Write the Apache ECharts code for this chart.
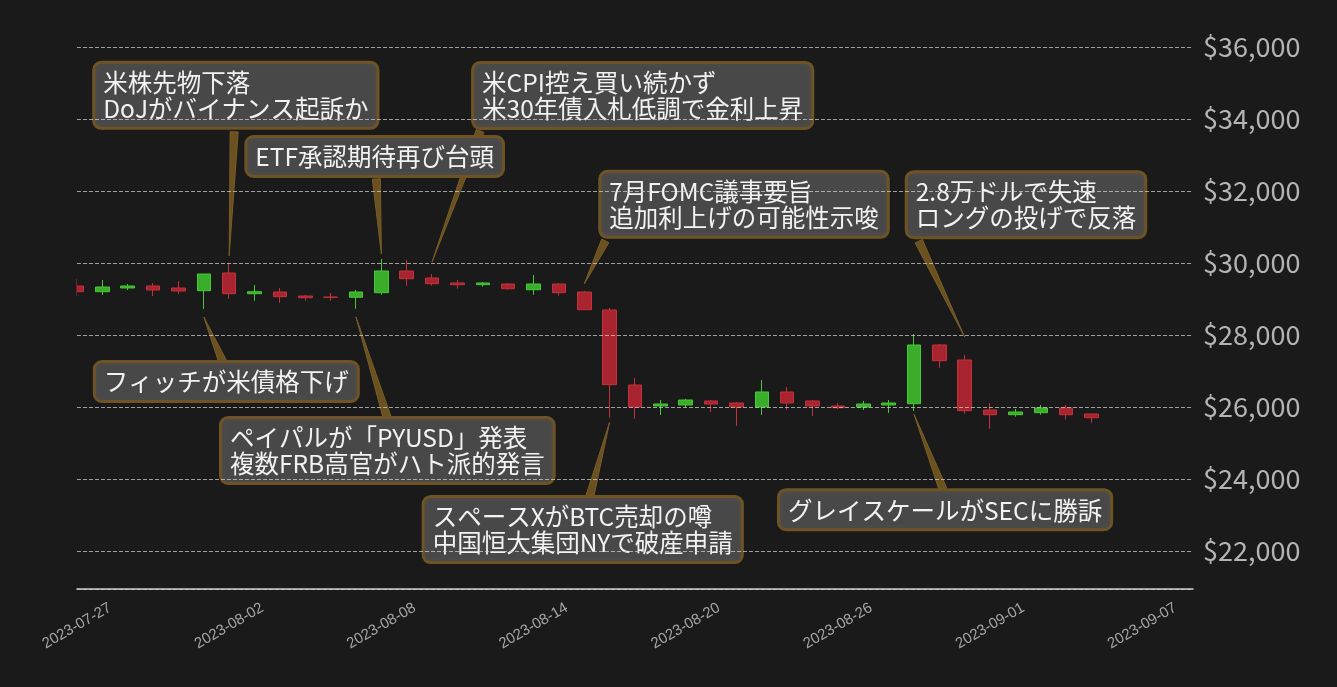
<!DOCTYPE html>
<html>
<head>
<meta charset="utf-8">
<script src="https://cdn.jsdelivr.net/npm/echarts@6/dist/echarts.min.js"></script>
<style>
html,body{margin:0;padding:0;background:#1a1a1a;}
#chart{width:1337px;height:687px;}
</style>
</head>
<body>
<div id="chart"></div>
<script>
// ---- data ----
const dates = [
  '2023-07-27','2023-07-28','2023-07-29','2023-07-30','2023-07-31',
  '2023-08-01','2023-08-02','2023-08-03','2023-08-04','2023-08-05',
  '2023-08-06','2023-08-07','2023-08-08','2023-08-09','2023-08-10',
  '2023-08-11','2023-08-12','2023-08-13','2023-08-14','2023-08-15',
  '2023-08-16','2023-08-17','2023-08-18','2023-08-19','2023-08-20',
  '2023-08-21','2023-08-22','2023-08-23','2023-08-24','2023-08-25',
  '2023-08-26','2023-08-27','2023-08-28','2023-08-29','2023-08-30',
  '2023-08-31','2023-09-01','2023-09-02','2023-09-03','2023-09-04',
  '2023-09-05'
];
const opens = [
  29361,29203,29306,29361,29306, 29231,29722,29147,29194,29083,
  29055,29047,29175,29778,29583, 29444,29397,29417,29258,29417,
  29194,28694,26611,26028,26056, 26167,26111,26000,26417,26167,
  26028,26000,26056,26092,27722, 27306,25917,25786,25842,25972,
  25806
];
const closes = [
  29203,29333,29361,29250,29222, 29694,29147,29203,29064,29036,
  29045,29194,29778,29564,29425, 29397,29444,29286,29417,29175,
  28703,26620,26000,26083,26194, 26083,26000,26417,26111,26028,
  25980,26083,26111,27722,27286, 25897,25786,25861,25972,25786,
  25703
];
const lows = [
  29092,29111,29250,29083,29139, 28722,29008,28953,28897,28953,
  28953,28731,29119,29369,29369, 29286,29342,29258,29119,29092,
  28703,25703,25675,25778,25981, 25861,25472,25778,25917,25750,
  25944,25917,25833,25889,27092, 25814,25397,25731,25786,25647,
  25564
];
const highs = [
  29556,29528,29417,29444,29500, 29694,30000,29389,29306,29111,
  29167,29250,30111,30083,29694, 29528,29472,29444,29667,29444,
  29222,28750,26806,26194,26222, 26194,26139,26750,26556,26194,
  26111,26167,26194,28028,27750, 27444,26111,25944,26056,26056,
  25806
];
const xTickLabels = ['2023-07-27','2023-08-02','2023-08-08','2023-08-14','2023-08-20','2023-08-26','2023-09-01','2023-09-07'];
const yTickLabels = ['$22,000','$24,000','$26,000','$28,000','$30,000','$32,000','$34,000','$36,000'];

const eventDates = ['2023-08-02','2023-08-08','2023-08-10','2023-08-16','2023-08-31','2023-08-01','2023-08-07','2023-08-17','2023-08-29'];
const eventPrices = [30200,30250,30030,29420,27940,28500,28500,25580,25800];
const eventTexts = [
  '米株先物下落\nDoJがバイナンス起訴か',
  'ETF承認期待再び台頭',
  '米CPI控え買い続かず\n米30年債入札低調で金利上昇',
  '7月FOMC議事要旨\n追加利上げの可能性示唆',
  '2.8万ドルで失速\nロングの投げで反落',
  'フィッチが米債格下げ',
  'ペイパルが「PYUSD」発表\n複数FRB高官がハト派的発言',
  'スペースXがBTC売却の噂\n中国恒大集団NYで破産申請',
  'グレイスケールがSECに勝訴'
];

// ---- layout (pixel offsets of each label box / arrow base from its arrow tip) ----
const eventBoxOffset = [[-134,-192],[-134,-116],[42,-198],[17,-111],[-57,-164],[-108,46],[-134,102],[-185,76],[-134,77]];
const eventArrowBase = [[5,-124],[-5,-75],[48,-131],[21,-43],[-46,-96],[19,45],[31,100],[-20,75],[29,75]];

const DAY = 86400000;
const t0 = Date.parse(dates[0]);
const dayIndex = d => (Date.parse(d) - t0) / DAY;
const xLabelOf = v => new Date(t0 + v * DAY).toISOString().slice(0, 10);

const candleData = dates.map((d, i) => [dayIndex(d), opens[i], closes[i], lows[i], highs[i]]);
const eventData = eventDates.map((d, i) => [dayIndex(d), eventPrices[i]]);

const chart = echarts.init(document.getElementById('chart'), null, {renderer: 'canvas'});
chart.setOption({
  backgroundColor: '#1a1a1a',
  animation: false,
  grid: {left: 77, right: 144, top: 47, bottom: 98, containLabel: false},
  graphic: [{
    // mask: the plot clips the first candle at its left edge
    type: 'rect', left: 0, top: 0, z: 5,
    shape: {width: 76.5, height: 588},
    style: {fill: '#1a1a1a'}
  }],
  xAxis: {
    type: 'value', min: 0, max: 44, interval: 6,
    splitLine: {show: false},
    axisTick: {show: false},
    axisLine: {show: true, lineStyle: {color: '#d0d0d0', width: 1.6}},
    axisLabel: {
      rotate: 30, align: 'center', verticalAlign: 'middle', margin: 37,
      color: '#a6a6a6', fontSize: 15, fontFamily: '"Liberation Sans", Arial, sans-serif',
      showMaxLabel: false,
      formatter: v => { const s = xLabelOf(v); return xTickLabels.indexOf(s) >= 0 ? s : ''; }
    }
  },
  yAxis: {
    type: 'value', position: 'right', min: 20944, max: 36000,
    splitNumber: 8, minInterval: 2000, maxInterval: 2000,
    z: 10,
    axisLine: {show: false}, axisTick: {show: false},
    splitLine: {show: true, lineStyle: {color: 'rgba(205,205,205,0.75)', width: 1, type: [4, 2]}},
    axisLabel: {
      showMinLabel: false, margin: 10,
      color: '#b4b4b4', fontSize: 27, fontFamily: '"Noto Sans CJK JP", "Noto Sans", sans-serif',
      formatter: v => { const s = '$' + Math.round(v).toLocaleString('en-US'); return yTickLabels.indexOf(s) >= 0 ? s : ''; }
    }
  },
  series: [
    {
      type: 'candlestick',
      data: candleData,
      encode: {x: 0, y: [1, 2, 3, 4]},
      barWidth: 14,
      clip: true,
      z: 2,
      itemStyle: {
        color: '#3aad2b', color0: '#a82530',
        borderColor: '#46c936', borderColor0: '#c4303b',
        borderWidth: 1
      }
    },
    {
      type: 'custom',
      z: 3,
      data: eventData,
      encode: {x: 0, y: 1},
      renderItem: (params, api) => {
        const tip = api.coord([api.value(0), api.value(1)]);
        const b = eventArrowBase[params.dataIndex];
        const bx = tip[0] + b[0], by = tip[1] + b[1];
        const dx = tip[0] - bx, dy = tip[1] - by;
        const len = Math.hypot(dx, dy);
        const nx = -dy / len * 4, ny = dx / len * 4;
        return {
          type: 'polygon',
          shape: {points: [[bx + nx, by + ny], [bx - nx, by - ny], [tip[0], tip[1]]]},
          style: {fill: '#6b5020', stroke: '#7a5e27', lineWidth: 1}
        };
      }
    },
    {
      type: 'custom',
      z: 4,
      data: eventData,
      encode: {x: 0, y: 1},
      renderItem: (params, api) => {
        const tip = api.coord([api.value(0), api.value(1)]);
        const o = eventBoxOffset[params.dataIndex];
        return {
          type: 'text',
          x: tip[0] + o[0], y: tip[1] + o[1],
          style: {
            text: eventTexts[params.dataIndex],
            fill: '#f2f2f2',
            fontSize: 24.5, lineHeight: 26,
            fontFamily: '"Noto Sans CJK JP", sans-serif',
            align: 'left', verticalAlign: 'top',
            backgroundColor: 'rgba(74,74,74,0.97)',
            borderColor: '#6e5424', borderWidth: 3, borderRadius: 6,
            padding: [6, 8, 5, 8]
          }
        };
      }
    }
  ]
});
</script>
</body>
</html>
